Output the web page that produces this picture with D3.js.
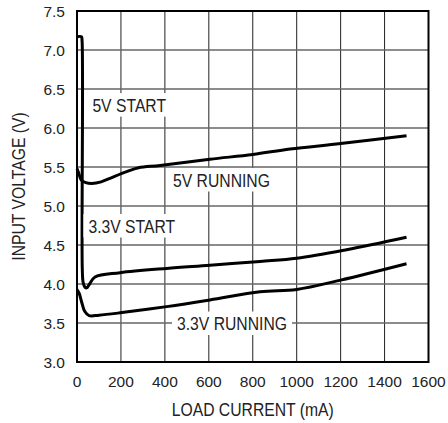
<!DOCTYPE html>
<html>
<head>
<meta charset="utf-8">
<script src="https://cdn.jsdelivr.net/npm/d3@7"></script>
<style>
  html, body { margin: 0; padding: 0; background: #fff; }
  svg { display: block; }
  .tick-label { font-family: "Liberation Sans", Arial, sans-serif; font-size: 15.5px; fill: #222; }
  .lbl { font-family: "Liberation Sans", Arial, sans-serif; font-size: 18.5px; fill: #222; }
</style>
</head>
<body>
<script>
const xTicks = [0, 200, 400, 600, 800, 1000, 1200, 1400, 1600];
const yTicks = [3.0, 3.5, 4.0, 4.5, 5.0, 5.5, 6.0, 6.5, 7.0, 7.5];

const start33_mA = [0, 20, 23, 24, 28, 36, 44, 55, 82, 196, 408, 605, 833, 1000, 1227, 1500];
const start33_V  = [7.17, 7.17, 7.12, 4.2, 4.02, 3.96, 3.95, 3.99, 4.09, 4.145, 4.20, 4.24, 4.29, 4.33, 4.44, 4.60];

const run5_mA = [0, 8, 20, 40, 67, 110, 150, 226, 280, 378, 605, 800, 970, 1200, 1500];
const run5_V  = [5.48, 5.42, 5.33, 5.30, 5.29, 5.31, 5.355, 5.44, 5.49, 5.52, 5.60, 5.66, 5.73, 5.80, 5.90];

const run33_mA = [0, 10, 22, 35, 55, 100, 196, 408, 605, 833, 1000, 1200, 1500];
const run33_V  = [3.93, 3.88, 3.76, 3.65, 3.595, 3.60, 3.63, 3.71, 3.795, 3.90, 3.93, 4.05, 4.26];

const labels = [
  { text: "5V START", mA: 70, V: 6.21 },
  { text: "5V RUNNING", mA: 437, V: 5.25 },
  { text: "3.3V START", mA: 52, V: 4.66 },
  { text: "3.3V RUNNING", mA: 455, V: 3.41 }
];

const W = 448, H = 423;
const margin = { left: 77, right: 19.5, top: 11, bottom: 61 };
const SX = 0.85;

const svg = d3.select("body").append("svg").attr("width", W).attr("height", H);

const x = d3.scaleLinear().domain([0, 1600]).range([margin.left, W - margin.right]);
const y = d3.scaleLinear().domain([3, 7.5]).range([H - margin.bottom, margin.top]);

// grid
const g = svg.append("g");
g.selectAll(".vg").data(xTicks.slice(1, -1)).enter().append("line")
  .attr("x1", d => x(d)).attr("x2", d => x(d))
  .attr("y1", y(7.5)).attr("y2", y(3))
  .attr("stroke", "#222").attr("stroke-width", 1);
g.selectAll(".hg").data(yTicks.slice(1, -1)).enter().append("line")
  .attr("x1", x(0)).attr("x2", x(1600))
  .attr("y1", d => y(d)).attr("y2", d => y(d))
  .attr("stroke", "#666").attr("stroke-width", 1.3);

// curves
const line = d3.line().x(d => x(d[0])).y(d => y(d[1])).curve(d3.curveCatmullRom.alpha(0.5));
const series = [
  d3.zip(start33_mA, start33_V),
  d3.zip(run5_mA, run5_V),
  d3.zip(run33_mA, run33_V)
];
svg.append("g").selectAll("path").data(series).enter().append("path")
  .attr("d", line)
  .attr("fill", "none").attr("stroke", "#000").attr("stroke-width", 3)
  .attr("stroke-linejoin", "round");

// labels with white backgrounds
const lg = svg.append("g");
labels.forEach(l => {
  const px = x(l.mA), py = y(l.V);
  const bg = lg.append("rect").attr("fill", "#fff");
  const t = lg.append("text").attr("class", "lbl")
    .attr("transform", `translate(${px},${py}) scale(${SX},1)`).text(l.text);
  const w = t.node().getComputedTextLength() * SX;
  bg.attr("x", px - 5).attr("y", py - 18.5).attr("width", w + 10).attr("height", 23.5);
});

// frame
svg.append("rect")
  .attr("x", x(0)).attr("y", y(7.5))
  .attr("width", x(1600) - x(0)).attr("height", y(3) - y(7.5))
  .attr("fill", "none").attr("stroke", "#000").attr("stroke-width", 2);

// tick labels
svg.append("g").selectAll("text").data(yTicks).enter().append("text")
  .attr("class", "tick-label")
  .attr("x", x(0) - 12).attr("y", d => y(d) + 6)
  .attr("text-anchor", "end")
  .text(d => d.toFixed(1));
svg.append("g").selectAll("text").data(xTicks).enter().append("text")
  .attr("class", "tick-label")
  .attr("x", d => x(d)).attr("y", y(3) + 24.5)
  .attr("text-anchor", "middle")
  .text(d => d);

// axis titles
svg.append("text").attr("class", "lbl")
  .attr("transform", `translate(${(x(0) + x(1600)) / 2}, 416) scale(${SX},1)`)
  .attr("text-anchor", "middle")
  .text("LOAD CURRENT (mA)");
svg.append("text").attr("class", "lbl")
  .attr("transform", `translate(24.5, ${(y(3) + y(7.5)) / 2}) rotate(-90) scale(${SX},1)`)
  .attr("text-anchor", "middle")
  .text("INPUT VOLTAGE (V)");
</script>
</body>
</html>
